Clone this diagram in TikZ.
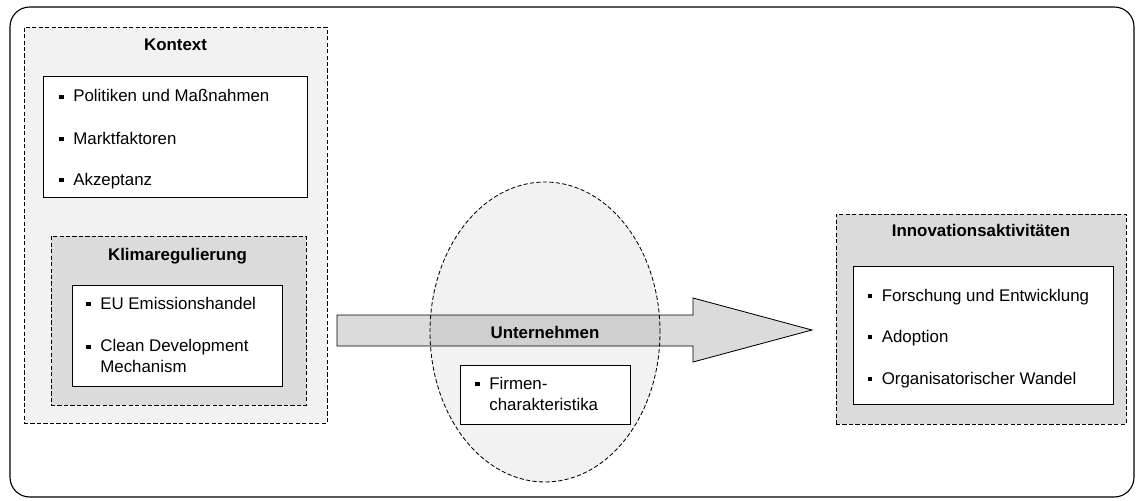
\documentclass[tikz,border=0pt]{standalone}
\usepackage{fontspec}
\setmainfont{Liberation Sans}
\usetikzlibrary{positioning,shapes.geometric}
\definecolor{hellgrau}{gray}{0.95}
\definecolor{mittelgrau}{gray}{0.86}
\newcommand{\pxl}{0.025cm}
\newcommand{\sqb}{\rule[1.9pt]{3pt}{3pt}\hspace{7pt}}
\newcommand{\zweizeilig}[2]{\begin{tabular}[t]{@{}l@{}}#1\\#2\end{tabular}}
\tikzset{
    rahmen/.style={draw=black, line width=0.8pt, rounded corners=14pt},
    gestrichelt/.style={draw=black, dash pattern=on 3pt off 1.6pt, line width=0.6pt},
    aussenbox/.style={gestrichelt, fill=hellgrau, inner sep=0pt},
    innenbox/.style={gestrichelt, fill=mittelgrau, inner sep=0pt},
    listbox/.style={draw=black, fill=white, line width=0.6pt, inner sep=0pt},
    titel/.style={anchor=base, font=\fontsize{12}{15}\selectfont\bfseries, inner sep=0pt},
    punkt/.style={anchor=base west, font=\fontsize{12}{15}\selectfont, inner sep=0pt},
    pfeil/.style={draw=black, fill=mittelgrau, line width=0.6pt},
    firma/.style={ellipse, gestrichelt, fill=black, fill opacity=0.05, text opacity=1, inner sep=0pt}
}
\begin{document}
\begin{tikzpicture}[x=\pxl,y=-\pxl]
	\useasboundingbox (0,0) rectangle (1136,500);
	\draw[rahmen] (10,7) rectangle (1134,497);
	% Kontext
	\node[aussenbox, minimum width=303*\pxl, minimum height=396*\pxl] (kontext) at (175.5,225) {};
	\node[titel] (kontexttitel) at (175.5,50.5) {Kontext};
	\node[listbox, minimum width=264*\pxl, minimum height=121*\pxl] (kontextliste) at (175,136.5) {};
	\node[punkt] (politik) at (59,101.5) {\sqb Politiken und Maßnahmen};
	\node[punkt] (markt) at (59,144) {\sqb Marktfaktoren};
	\node[punkt] (akzeptanz) at (59,185) {\sqb Akzeptanz};
	% Klimaregulierung
	\node[innenbox, minimum width=255*\pxl, minimum height=169*\pxl] (klima) at (178.5,320.5) {};
	\node[titel] (klimatitel) at (177.5,260.5) {Klimaregulierung};
	\node[listbox, minimum width=210*\pxl, minimum height=101*\pxl] (klimaliste) at (177,335.5) {};
	\node[punkt] (emission) at (86,309) {\sqb EU Emissionshandel};
	\node[punkt] (cdm) at (86,351.5) {\sqb\zweizeilig{Clean Development}{Mechanism}};
	% Unternehmen
	\draw[pfeil] (337,315) -- (693,315) -- (693,298) -- (812,330) -- (693,362) -- (693,346) -- (337,346) -- cycle;
	\node[firma, minimum width=230*\pxl, minimum height=300*\pxl] (firma) at (545,332) {};
	\node[titel] (firmatitel) at (545,338) {Unternehmen};
	\node[listbox, minimum width=170*\pxl, minimum height=59*\pxl] (firmenliste) at (545,394.5) {};
	\node[punkt] (merkmale) at (475,389) {\sqb\zweizeilig{Firmen-}{charakteristika}};
	% Innovationsaktivitaeten
	\node[innenbox, minimum width=290*\pxl, minimum height=210*\pxl] (innovation) at (981,319) {};
	\node[titel] (innovationtitel) at (981,236.5) {Innovationsaktivitäten};
	\node[listbox, minimum width=260*\pxl, minimum height=138*\pxl] (innovationliste) at (983,335) {};
	\node[punkt] (fue) at (867.5,301) {\sqb Forschung und Entwicklung};
	\node[punkt] (adoption) at (867.5,342) {\sqb Adoption};
	\node[punkt] (wandel) at (867.5,384) {\sqb Organisatorischer Wandel};
\end{tikzpicture}
\end{document}
